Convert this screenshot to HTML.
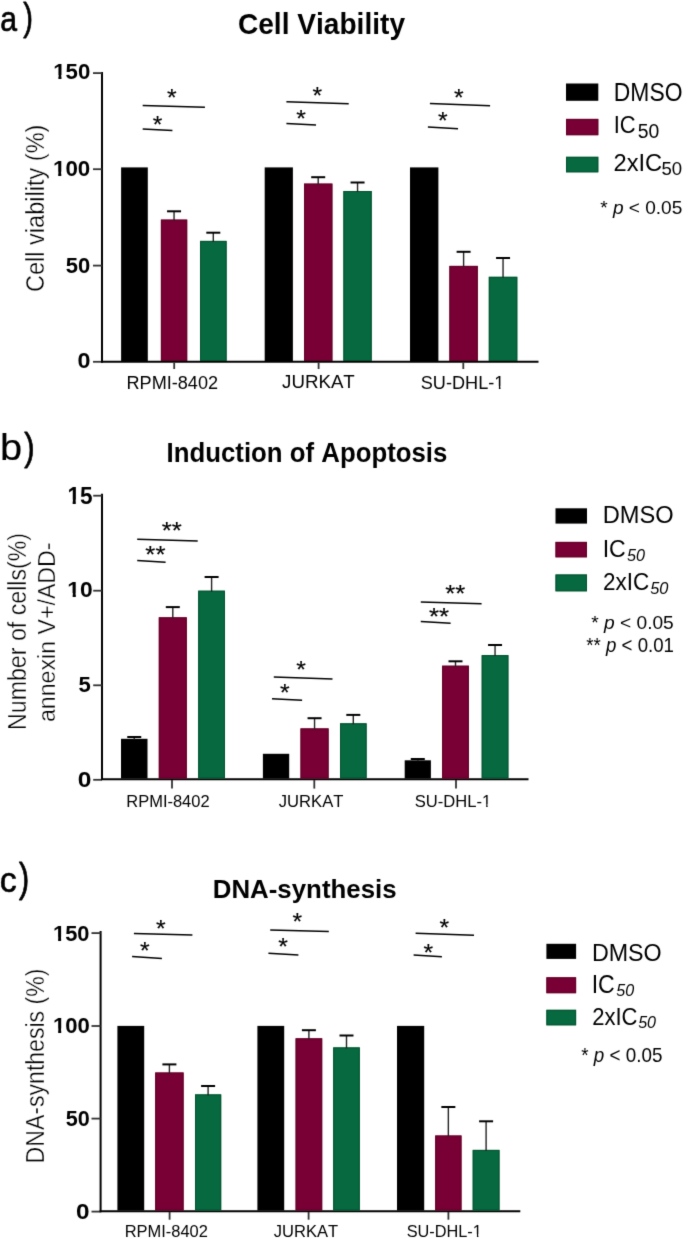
<!DOCTYPE html>
<html><head><meta charset="utf-8"><style>
html,body{margin:0;padding:0;background:#fff;}
svg{display:block;font-family:"Liberation Sans", sans-serif;}
text{font-kerning:none;}
svg{will-change:transform;}
</style></head><body>
<svg width="685" height="1238" viewBox="0 0 685 1238">
<defs><filter id="soft" filterUnits="userSpaceOnUse" x="-20" y="-20" width="725" height="1278" color-interpolation-filters="sRGB"><feConvolveMatrix order="5" kernelMatrix="0.00000 0.00003 0.00021 0.00003 0.00000 0.00003 0.01133 0.08373 0.01133 0.00003 0.00021 0.08373 0.61869 0.08373 0.00021 0.00003 0.01133 0.08373 0.01133 0.00003 0.00000 0.00003 0.00021 0.00003 0.00000" divisor="1" edgeMode="none" preserveAlpha="true"/></filter></defs>
<g filter="url(#soft)">
<rect x="-20" y="-20" width="725" height="1278" fill="#fff"/>
<text transform="translate(0.22,30.65) scale(0.8434,1)" font-size="35.78" font-weight="normal" font-style="normal" fill="#000" stroke="#000" stroke-width="0.71" stroke-linejoin="round">a</text>
<text transform="translate(23.13,30.02) scale(0.7352,1)" font-size="39.50" font-weight="normal" font-style="normal" fill="#000" stroke="#000" stroke-width="0.82" stroke-linejoin="round">)</text>
<text transform="translate(237.95,33.76) scale(0.9817,1)" font-size="28.64" font-weight="bold" font-style="normal" fill="#000">Cell Viability</text>
<line x1="102.00" y1="72.00" x2="102.00" y2="362.80" stroke="#000" stroke-width="2.00"/>
<line x1="93.00" y1="73.10" x2="102.00" y2="73.10" stroke="#333" stroke-width="1.80"/>
<line x1="93.00" y1="169.20" x2="102.00" y2="169.20" stroke="#333" stroke-width="1.80"/>
<line x1="93.00" y1="265.60" x2="102.00" y2="265.60" stroke="#333" stroke-width="1.80"/>
<line x1="93.00" y1="361.80" x2="102.00" y2="361.80" stroke="#333" stroke-width="1.80"/>
<g transform="translate(53.20,79.08) scale(1.0096,1)"><text font-size="22.03" font-weight="bold" font-style="normal" fill="#000">150</text><rect x="-0.23" y="-4.08" width="5.37" height="5.48" fill="#fff"/><rect x="8.17" y="-4.08" width="4.55" height="5.48" fill="#fff"/></g>
<g transform="translate(52.99,175.78) scale(1.0154,1)"><text font-size="22.03" font-weight="bold" font-style="normal" fill="#000">100</text><rect x="-0.23" y="-4.08" width="5.37" height="5.48" fill="#fff"/><rect x="8.17" y="-4.08" width="4.55" height="5.48" fill="#fff"/></g>
<text transform="translate(65.82,272.78)" font-size="22.03" font-weight="bold" font-style="normal" fill="#000">50</text>
<text transform="translate(77.58,367.78) scale(1.0593,1)" font-size="22.03" font-weight="bold" font-style="normal" fill="#000">0</text>
<text transform="translate(44.02,292.00) rotate(-90) scale(0.9260,1)" font-size="25.43" font-weight="normal" font-style="normal" fill="#000" stroke="#fff" stroke-width="0.35">Cell viability (%)</text>
<line x1="101.00" y1="361.80" x2="538.50" y2="361.80" stroke="#000" stroke-width="2.00"/>
<line x1="174.20" y1="362.50" x2="174.20" y2="369.00" stroke="#333" stroke-width="1.80"/>
<line x1="318.60" y1="362.50" x2="318.60" y2="369.00" stroke="#333" stroke-width="1.80"/>
<line x1="463.30" y1="362.50" x2="463.30" y2="369.00" stroke="#333" stroke-width="1.80"/>
<text transform="translate(126.51,388.92) scale(0.9940,1)" font-size="18.22" font-weight="normal" font-style="normal" fill="#000">RPMI-8402</text>
<text transform="translate(282.11,388.42) scale(0.9959,1)" font-size="18.77" font-weight="normal" font-style="normal" fill="#000">JURKAT</text>
<g transform="translate(420.78,389.21) scale(0.9508,1)"><text font-size="19.07" font-weight="normal" font-style="normal" fill="#000">SU-DHL-1</text><rect x="77.39" y="-3.01" width="4.74" height="4.22" fill="#fff"/><rect x="83.81" y="-3.01" width="4.12" height="4.22" fill="#fff"/></g>
<rect x="121.10" y="167.40" width="26.70" height="193.60" fill="#000"/>
<rect x="160.90" y="219.60" width="26.30" height="141.40" fill="#780034"/>
<rect x="161.40" y="220.10" width="25.30" height="140.40" fill="none" stroke="#620026" stroke-width="1.00"/>
<line x1="174.05" y1="220.60" x2="174.05" y2="211.30" stroke="#222" stroke-width="1.40"/>
<line x1="167.05" y1="211.30" x2="181.05" y2="211.30" stroke="#000" stroke-width="2.00"/>
<rect x="200.00" y="240.90" width="26.60" height="120.10" fill="#076940"/>
<rect x="200.50" y="241.40" width="25.60" height="119.10" fill="none" stroke="#00532e" stroke-width="1.00"/>
<line x1="213.30" y1="241.90" x2="213.30" y2="232.70" stroke="#222" stroke-width="1.40"/>
<line x1="206.30" y1="232.70" x2="220.30" y2="232.70" stroke="#000" stroke-width="2.00"/>
<rect x="264.70" y="167.40" width="28.20" height="193.60" fill="#000"/>
<rect x="304.00" y="183.60" width="28.40" height="177.40" fill="#780034"/>
<rect x="304.50" y="184.10" width="27.40" height="176.40" fill="none" stroke="#620026" stroke-width="1.00"/>
<line x1="318.20" y1="184.60" x2="318.20" y2="177.20" stroke="#222" stroke-width="1.40"/>
<line x1="311.20" y1="177.20" x2="325.20" y2="177.20" stroke="#000" stroke-width="2.00"/>
<rect x="343.40" y="191.00" width="28.30" height="170.00" fill="#076940"/>
<rect x="343.90" y="191.50" width="27.30" height="169.00" fill="none" stroke="#00532e" stroke-width="1.00"/>
<line x1="357.55" y1="192.00" x2="357.55" y2="182.50" stroke="#222" stroke-width="1.40"/>
<line x1="350.55" y1="182.50" x2="364.55" y2="182.50" stroke="#000" stroke-width="2.00"/>
<rect x="410.00" y="167.40" width="28.40" height="193.60" fill="#000"/>
<rect x="449.40" y="265.90" width="28.40" height="95.10" fill="#780034"/>
<rect x="449.90" y="266.40" width="27.40" height="94.10" fill="none" stroke="#620026" stroke-width="1.00"/>
<line x1="463.60" y1="266.90" x2="463.60" y2="251.80" stroke="#222" stroke-width="1.40"/>
<line x1="456.60" y1="251.80" x2="470.60" y2="251.80" stroke="#000" stroke-width="2.00"/>
<rect x="488.80" y="276.80" width="28.50" height="84.20" fill="#076940"/>
<rect x="489.30" y="277.30" width="27.50" height="83.20" fill="none" stroke="#00532e" stroke-width="1.00"/>
<line x1="503.05" y1="277.80" x2="503.05" y2="258.00" stroke="#222" stroke-width="1.40"/>
<line x1="496.05" y1="258.00" x2="510.05" y2="258.00" stroke="#000" stroke-width="2.00"/>
<line x1="142.70" y1="105.40" x2="204.90" y2="107.30" stroke="#000" stroke-width="1.50"/>
<text transform="translate(166.98,105.88) scale(1.0167,1)" font-size="24.35" font-weight="normal" font-style="normal" fill="#000" stroke="#000" stroke-width="0.15" stroke-linejoin="round">*</text>
<line x1="142.70" y1="128.90" x2="172.40" y2="130.60" stroke="#000" stroke-width="1.50"/>
<text transform="translate(152.68,132.68) scale(1.0167,1)" font-size="24.35" font-weight="normal" font-style="normal" fill="#000" stroke="#000" stroke-width="0.15" stroke-linejoin="round">*</text>
<line x1="286.40" y1="101.80" x2="348.70" y2="103.70" stroke="#000" stroke-width="1.50"/>
<text transform="translate(312.38,104.18) scale(1.0167,1)" font-size="24.35" font-weight="normal" font-style="normal" fill="#000" stroke="#000" stroke-width="0.15" stroke-linejoin="round">*</text>
<line x1="286.40" y1="123.40" x2="316.00" y2="125.10" stroke="#000" stroke-width="1.50"/>
<text transform="translate(296.18,127.38) scale(1.0167,1)" font-size="24.35" font-weight="normal" font-style="normal" fill="#000" stroke="#000" stroke-width="0.15" stroke-linejoin="round">*</text>
<line x1="429.90" y1="103.60" x2="490.10" y2="105.70" stroke="#000" stroke-width="1.50"/>
<text transform="translate(453.98,105.88) scale(1.0167,1)" font-size="24.35" font-weight="normal" font-style="normal" fill="#000" stroke="#000" stroke-width="0.15" stroke-linejoin="round">*</text>
<line x1="427.90" y1="127.00" x2="458.00" y2="128.70" stroke="#000" stroke-width="1.50"/>
<text transform="translate(437.98,129.18) scale(1.0167,1)" font-size="24.35" font-weight="normal" font-style="normal" fill="#000" stroke="#000" stroke-width="0.15" stroke-linejoin="round">*</text>
<rect x="566.00" y="83.50" width="32.30" height="17.30" fill="#000"/>
<rect x="566.00" y="118.90" width="32.30" height="16.30" fill="#780034"/>
<rect x="566.50" y="119.40" width="31.30" height="15.30" fill="none" stroke="#620026" stroke-width="1.00"/>
<rect x="566.00" y="156.80" width="32.30" height="15.50" fill="#076940"/>
<rect x="566.50" y="157.30" width="31.30" height="14.50" fill="none" stroke="#00532e" stroke-width="1.00"/>
<text transform="translate(613.82,100.65) scale(0.9105,1)" font-size="25.14" font-weight="normal" font-style="normal" fill="#000">DMSO</text>
<text transform="translate(613.67,132.96) scale(0.9041,1)" font-size="24.29" font-weight="normal" font-style="normal" fill="#000">IC</text>
<text transform="translate(637.72,138.31) scale(0.9860,1)" font-size="19.63" font-weight="normal" font-style="normal" fill="#000">50</text>
<text transform="translate(613.51,170.66) scale(0.9527,1)" font-size="24.86" font-weight="normal" font-style="normal" fill="#000">2xIC</text>
<text transform="translate(661.46,175.42) scale(0.9892,1)" font-size="18.79" font-weight="normal" font-style="normal" fill="#000">50</text>
<text transform="translate(600.19,213.72) scale(1.0311,1)" font-size="18.50" xml:space="preserve">* <tspan font-style="italic">p</tspan> &lt; 0.05</text>
<text transform="translate(0.03,460.23) scale(1.0553,1)" font-size="37.72" font-weight="normal" font-style="normal" fill="#000" stroke="#000" stroke-width="0.19" stroke-linejoin="round">b</text>
<text transform="translate(24.32,459.78) scale(0.7882,1)" font-size="39.71" font-weight="normal" font-style="normal" fill="#000" stroke="#000" stroke-width="0.76" stroke-linejoin="round">)</text>
<text transform="translate(166.57,461.66) scale(0.9318,1)" font-size="27.68" font-weight="bold" font-style="normal" fill="#000">Induction of Apoptosis</text>
<line x1="102.00" y1="493.70" x2="102.00" y2="780.00" stroke="#000" stroke-width="2.00"/>
<line x1="93.20" y1="495.70" x2="102.00" y2="495.70" stroke="#333" stroke-width="1.80"/>
<line x1="93.20" y1="590.70" x2="102.00" y2="590.70" stroke="#333" stroke-width="1.80"/>
<line x1="93.20" y1="685.30" x2="102.00" y2="685.30" stroke="#333" stroke-width="1.80"/>
<line x1="93.20" y1="779.80" x2="102.00" y2="779.80" stroke="#333" stroke-width="1.80"/>
<g transform="translate(67.38,503.87) scale(0.9801,1)"><text font-size="23.07" font-weight="bold" font-style="normal" fill="#000">15</text><rect x="-0.24" y="-4.27" width="5.62" height="5.73" fill="#fff"/><rect x="8.55" y="-4.27" width="4.77" height="5.73" fill="#fff"/></g>
<g transform="translate(67.36,597.18) scale(1.0157,1)"><text font-size="22.46" font-weight="bold" font-style="normal" fill="#000">10</text><rect x="-0.23" y="-4.16" width="5.47" height="5.58" fill="#fff"/><rect x="8.32" y="-4.16" width="4.64" height="5.58" fill="#fff"/></g>
<text transform="translate(78.42,692.18) scale(0.9641,1)" font-size="22.93" font-weight="bold" font-style="normal" fill="#000">5</text>
<text transform="translate(77.63,787.08) scale(1.0886,1)" font-size="22.60" font-weight="bold" font-style="normal" fill="#000">0</text>
<text transform="translate(26.14,730.00) rotate(-90) scale(0.9316,1)" font-size="24.90" font-weight="normal" font-style="normal" fill="#000" stroke="#fff" stroke-width="0.35">Number of cells(%)</text>
<text transform="translate(54.66,722.08) rotate(-90) scale(0.9509,1)" font-size="24.37" font-weight="normal" font-style="normal" fill="#000" stroke="#fff" stroke-width="0.35">annexin V+/ADD-</text>
<line x1="101.00" y1="779.20" x2="528.50" y2="779.20" stroke="#000" stroke-width="2.00"/>
<line x1="172.00" y1="779.90" x2="172.00" y2="788.60" stroke="#333" stroke-width="1.80"/>
<line x1="314.30" y1="779.90" x2="314.30" y2="788.60" stroke="#333" stroke-width="1.80"/>
<line x1="456.00" y1="779.90" x2="456.00" y2="788.60" stroke="#333" stroke-width="1.80"/>
<text transform="translate(126.25,807.03) scale(0.9727,1)" font-size="16.95" font-weight="normal" font-style="normal" fill="#000">RPMI-8402</text>
<text transform="translate(278.74,806.73) scale(0.9664,1)" font-size="17.20" font-weight="normal" font-style="normal" fill="#000">JURKAT</text>
<g transform="translate(414.75,806.73) scale(0.9782,1)"><text font-size="16.95" font-weight="normal" font-style="normal" fill="#000">SU-DHL-1</text><rect x="68.79" y="-2.67" width="4.21" height="3.75" fill="#fff"/><rect x="74.50" y="-2.67" width="3.67" height="3.75" fill="#fff"/></g>
<rect x="121.00" y="738.80" width="26.50" height="39.70" fill="#000"/>
<line x1="134.25" y1="739.80" x2="134.25" y2="737.00" stroke="#222" stroke-width="1.40"/>
<line x1="127.25" y1="737.00" x2="141.25" y2="737.00" stroke="#000" stroke-width="2.00"/>
<rect x="158.80" y="617.30" width="28.00" height="161.20" fill="#780034"/>
<rect x="159.30" y="617.80" width="27.00" height="160.20" fill="none" stroke="#620026" stroke-width="1.00"/>
<line x1="172.80" y1="618.30" x2="172.80" y2="607.10" stroke="#222" stroke-width="1.40"/>
<line x1="165.80" y1="607.10" x2="179.80" y2="607.10" stroke="#000" stroke-width="2.00"/>
<rect x="198.20" y="590.70" width="26.80" height="187.80" fill="#076940"/>
<rect x="198.70" y="591.20" width="25.80" height="186.80" fill="none" stroke="#00532e" stroke-width="1.00"/>
<line x1="211.60" y1="591.70" x2="211.60" y2="577.00" stroke="#222" stroke-width="1.40"/>
<line x1="204.60" y1="577.00" x2="218.60" y2="577.00" stroke="#000" stroke-width="2.00"/>
<rect x="262.90" y="753.80" width="26.30" height="24.70" fill="#000"/>
<rect x="300.50" y="728.40" width="28.10" height="50.10" fill="#780034"/>
<rect x="301.00" y="728.90" width="27.10" height="49.10" fill="none" stroke="#620026" stroke-width="1.00"/>
<line x1="314.55" y1="729.40" x2="314.55" y2="718.20" stroke="#222" stroke-width="1.40"/>
<line x1="307.55" y1="718.20" x2="321.55" y2="718.20" stroke="#000" stroke-width="2.00"/>
<rect x="340.00" y="723.30" width="26.60" height="55.20" fill="#076940"/>
<rect x="340.50" y="723.80" width="25.60" height="54.20" fill="none" stroke="#00532e" stroke-width="1.00"/>
<line x1="353.30" y1="724.30" x2="353.30" y2="714.90" stroke="#222" stroke-width="1.40"/>
<line x1="346.30" y1="714.90" x2="360.30" y2="714.90" stroke="#000" stroke-width="2.00"/>
<rect x="404.70" y="760.30" width="26.20" height="18.20" fill="#000"/>
<line x1="417.80" y1="761.30" x2="417.80" y2="759.00" stroke="#222" stroke-width="1.40"/>
<line x1="410.80" y1="759.00" x2="424.80" y2="759.00" stroke="#000" stroke-width="2.00"/>
<rect x="442.10" y="665.70" width="26.80" height="112.80" fill="#780034"/>
<rect x="442.60" y="666.20" width="25.80" height="111.80" fill="none" stroke="#620026" stroke-width="1.00"/>
<line x1="455.50" y1="666.70" x2="455.50" y2="661.30" stroke="#222" stroke-width="1.40"/>
<line x1="448.50" y1="661.30" x2="462.50" y2="661.30" stroke="#000" stroke-width="2.00"/>
<rect x="481.70" y="655.10" width="26.70" height="123.40" fill="#076940"/>
<rect x="482.20" y="655.60" width="25.70" height="122.40" fill="none" stroke="#00532e" stroke-width="1.00"/>
<line x1="495.05" y1="656.10" x2="495.05" y2="645.00" stroke="#222" stroke-width="1.40"/>
<line x1="488.05" y1="645.00" x2="502.05" y2="645.00" stroke="#000" stroke-width="2.00"/>
<line x1="137.20" y1="539.30" x2="197.70" y2="540.90" stroke="#000" stroke-width="1.50"/>
<text transform="translate(161.76,539.38) scale(1.0587,1)" font-size="24.35" font-weight="normal" font-style="normal" fill="#000" stroke="#000" stroke-width="0.14" stroke-linejoin="round">**</text>
<line x1="137.20" y1="560.60" x2="165.60" y2="562.30" stroke="#000" stroke-width="1.50"/>
<text transform="translate(145.36,562.78) scale(1.0587,1)" font-size="24.35" font-weight="normal" font-style="normal" fill="#000" stroke="#000" stroke-width="0.14" stroke-linejoin="round">**</text>
<line x1="273.80" y1="677.00" x2="332.50" y2="679.00" stroke="#000" stroke-width="1.50"/>
<text transform="translate(296.18,677.68) scale(1.0167,1)" font-size="24.35" font-weight="normal" font-style="normal" fill="#000" stroke="#000" stroke-width="0.15" stroke-linejoin="round">*</text>
<line x1="272.00" y1="698.80" x2="302.10" y2="700.30" stroke="#000" stroke-width="1.50"/>
<text transform="translate(280.08,700.88) scale(1.0167,1)" font-size="24.35" font-weight="normal" font-style="normal" fill="#000" stroke="#000" stroke-width="0.15" stroke-linejoin="round">*</text>
<line x1="420.80" y1="601.90" x2="481.60" y2="603.70" stroke="#000" stroke-width="1.50"/>
<text transform="translate(445.16,602.28) scale(1.0587,1)" font-size="24.35" font-weight="normal" font-style="normal" fill="#000" stroke="#000" stroke-width="0.14" stroke-linejoin="round">**</text>
<line x1="420.80" y1="621.60" x2="450.60" y2="623.30" stroke="#000" stroke-width="1.50"/>
<text transform="translate(429.06,625.48) scale(1.0587,1)" font-size="24.35" font-weight="normal" font-style="normal" fill="#000" stroke="#000" stroke-width="0.14" stroke-linejoin="round">**</text>
<rect x="555.50" y="508.30" width="31.50" height="15.30" fill="#000"/>
<rect x="555.50" y="541.90" width="31.50" height="15.40" fill="#780034"/>
<rect x="556.00" y="542.40" width="30.50" height="14.40" fill="none" stroke="#620026" stroke-width="1.00"/>
<rect x="555.50" y="574.50" width="31.50" height="16.80" fill="#076940"/>
<rect x="556.00" y="575.00" width="30.50" height="15.80" fill="none" stroke="#00532e" stroke-width="1.00"/>
<text transform="translate(602.66,523.46) scale(0.9571,1)" font-size="24.72" font-weight="normal" font-style="normal" fill="#000">DMSO</text>
<text transform="translate(602.67,557.07) scale(0.9799,1)" font-size="23.59" font-weight="normal" font-style="normal" fill="#000">IC</text>
<text transform="translate(626.94,561.14) scale(0.9791,1)" font-size="16.53" font-weight="normal" font-style="italic" fill="#000">50</text>
<text transform="translate(603.07,589.66) scale(0.9321,1)" font-size="24.15" font-weight="normal" font-style="normal" fill="#000">2xIC</text>
<text transform="translate(650.13,593.64)" font-size="16.38" font-weight="normal" font-style="italic" fill="#000">50</text>
<text transform="translate(591.19,629.11) scale(1.0055,1)" font-size="19.07" xml:space="preserve">* <tspan font-style="italic">p</tspan> &lt; 0.05</text>
<text transform="translate(586.30,652.11) scale(0.9637,1)" font-size="19.35" xml:space="preserve">** <tspan font-style="italic">p</tspan> &lt; 0.01</text>
<text transform="translate(-0.24,892.36) scale(0.9612,1)" font-size="35.23" font-weight="normal" font-style="normal" fill="#000" stroke="#000" stroke-width="0.62" stroke-linejoin="round">c</text>
<text transform="translate(19.12,891.77) scale(0.7590,1)" font-size="40.25" font-weight="normal" font-style="normal" fill="#000" stroke="#000" stroke-width="0.79" stroke-linejoin="round">)</text>
<text transform="translate(212.77,897.61) scale(1.0343,1)" font-size="25.00" font-weight="bold" font-style="normal" fill="#000">DNA-synthesis</text>
<line x1="100.60" y1="931.10" x2="100.60" y2="1212.20" stroke="#000" stroke-width="2.00"/>
<line x1="91.50" y1="933.10" x2="100.60" y2="933.10" stroke="#333" stroke-width="1.80"/>
<line x1="91.50" y1="1026.00" x2="100.60" y2="1026.00" stroke="#333" stroke-width="1.80"/>
<line x1="91.50" y1="1118.60" x2="100.60" y2="1118.60" stroke="#333" stroke-width="1.80"/>
<line x1="91.50" y1="1211.60" x2="100.60" y2="1211.60" stroke="#333" stroke-width="1.80"/>
<g transform="translate(53.02,940.98) scale(0.9796,1)"><text font-size="22.32" font-weight="bold" font-style="normal" fill="#000">150</text><rect x="-0.23" y="-4.13" width="5.44" height="5.55" fill="#fff"/><rect x="8.27" y="-4.13" width="4.61" height="5.55" fill="#fff"/></g>
<g transform="translate(53.01,1032.58) scale(0.9787,1)"><text font-size="22.60" font-weight="bold" font-style="normal" fill="#000">100</text><rect x="-0.23" y="-4.18" width="5.51" height="5.62" fill="#fff"/><rect x="8.38" y="-4.18" width="4.67" height="5.62" fill="#fff"/></g>
<text transform="translate(65.83,1125.78) scale(0.9450,1)" font-size="22.88" font-weight="bold" font-style="normal" fill="#000">50</text>
<text transform="translate(75.94,1218.78) scale(1.0793,1)" font-size="22.60" font-weight="bold" font-style="normal" fill="#000">0</text>
<text transform="translate(44.02,1163.39) rotate(-90) scale(0.9077,1)" font-size="25.43" font-weight="normal" font-style="normal" fill="#000" stroke="#fff" stroke-width="0.35">DNA-synthesis (%)</text>
<line x1="99.60" y1="1211.20" x2="520.30" y2="1211.20" stroke="#000" stroke-width="2.00"/>
<line x1="169.60" y1="1211.90" x2="169.60" y2="1219.70" stroke="#333" stroke-width="1.80"/>
<line x1="308.60" y1="1211.90" x2="308.60" y2="1219.70" stroke="#333" stroke-width="1.80"/>
<line x1="448.40" y1="1211.90" x2="448.40" y2="1219.70" stroke="#333" stroke-width="1.80"/>
<text transform="translate(124.65,1236.74) scale(0.9952,1)" font-size="16.53" font-weight="normal" font-style="normal" fill="#000">RPMI-8402</text>
<text transform="translate(273.74,1236.74) scale(0.9866,1)" font-size="16.77" font-weight="normal" font-style="normal" fill="#000">JURKAT</text>
<g transform="translate(406.66,1236.74) scale(0.9872,1)"><text font-size="16.53" font-weight="normal" font-style="normal" fill="#000">SU-DHL-1</text><rect x="67.07" y="-2.61" width="4.11" height="3.66" fill="#fff"/><rect x="72.64" y="-2.61" width="3.57" height="3.66" fill="#fff"/></g>
<rect x="117.40" y="1025.90" width="26.80" height="184.60" fill="#000"/>
<rect x="155.20" y="1072.50" width="28.40" height="138.00" fill="#780034"/>
<rect x="155.70" y="1073.00" width="27.40" height="137.00" fill="none" stroke="#620026" stroke-width="1.00"/>
<line x1="169.40" y1="1073.50" x2="169.40" y2="1064.40" stroke="#222" stroke-width="1.40"/>
<line x1="162.40" y1="1064.40" x2="176.40" y2="1064.40" stroke="#000" stroke-width="2.00"/>
<rect x="195.00" y="1094.40" width="26.20" height="116.10" fill="#076940"/>
<rect x="195.50" y="1094.90" width="25.20" height="115.10" fill="none" stroke="#00532e" stroke-width="1.00"/>
<line x1="208.10" y1="1095.40" x2="208.10" y2="1086.00" stroke="#222" stroke-width="1.40"/>
<line x1="201.10" y1="1086.00" x2="215.10" y2="1086.00" stroke="#000" stroke-width="2.00"/>
<rect x="257.40" y="1025.90" width="26.80" height="184.60" fill="#000"/>
<rect x="295.60" y="1038.30" width="26.60" height="172.20" fill="#780034"/>
<rect x="296.10" y="1038.80" width="25.60" height="171.20" fill="none" stroke="#620026" stroke-width="1.00"/>
<line x1="308.90" y1="1039.30" x2="308.90" y2="1030.20" stroke="#222" stroke-width="1.40"/>
<line x1="301.90" y1="1030.20" x2="315.90" y2="1030.20" stroke="#000" stroke-width="2.00"/>
<rect x="333.20" y="1047.40" width="26.60" height="163.10" fill="#076940"/>
<rect x="333.70" y="1047.90" width="25.60" height="162.10" fill="none" stroke="#00532e" stroke-width="1.00"/>
<line x1="346.50" y1="1048.40" x2="346.50" y2="1035.50" stroke="#222" stroke-width="1.40"/>
<line x1="339.50" y1="1035.50" x2="353.50" y2="1035.50" stroke="#000" stroke-width="2.00"/>
<rect x="397.00" y="1025.90" width="27.20" height="184.60" fill="#000"/>
<rect x="435.20" y="1135.50" width="26.30" height="75.00" fill="#780034"/>
<rect x="435.70" y="1136.00" width="25.30" height="74.00" fill="none" stroke="#620026" stroke-width="1.00"/>
<line x1="448.35" y1="1136.50" x2="448.35" y2="1107.00" stroke="#222" stroke-width="1.40"/>
<line x1="441.35" y1="1107.00" x2="455.35" y2="1107.00" stroke="#000" stroke-width="2.00"/>
<rect x="472.70" y="1149.90" width="26.80" height="60.60" fill="#076940"/>
<rect x="473.20" y="1150.40" width="25.80" height="59.60" fill="none" stroke="#00532e" stroke-width="1.00"/>
<line x1="486.10" y1="1150.90" x2="486.10" y2="1121.30" stroke="#222" stroke-width="1.40"/>
<line x1="479.10" y1="1121.30" x2="493.10" y2="1121.30" stroke="#000" stroke-width="2.00"/>
<line x1="133.90" y1="933.40" x2="192.40" y2="935.10" stroke="#000" stroke-width="1.50"/>
<text transform="translate(155.98,937.38) scale(1.0167,1)" font-size="24.35" font-weight="normal" font-style="normal" fill="#000" stroke="#000" stroke-width="0.15" stroke-linejoin="round">*</text>
<line x1="132.10" y1="956.40" x2="161.90" y2="958.40" stroke="#000" stroke-width="1.50"/>
<text transform="translate(139.98,958.88) scale(1.0167,1)" font-size="24.35" font-weight="normal" font-style="normal" fill="#000" stroke="#000" stroke-width="0.15" stroke-linejoin="round">*</text>
<line x1="270.20" y1="929.90" x2="328.80" y2="931.60" stroke="#000" stroke-width="1.50"/>
<text transform="translate(292.38,930.28) scale(1.0167,1)" font-size="24.35" font-weight="normal" font-style="normal" fill="#000" stroke="#000" stroke-width="0.15" stroke-linejoin="round">*</text>
<line x1="268.40" y1="953.20" x2="298.40" y2="955.00" stroke="#000" stroke-width="1.50"/>
<text transform="translate(278.18,955.28) scale(1.0167,1)" font-size="24.35" font-weight="normal" font-style="normal" fill="#000" stroke="#000" stroke-width="0.15" stroke-linejoin="round">*</text>
<line x1="415.60" y1="933.30" x2="474.00" y2="935.20" stroke="#000" stroke-width="1.50"/>
<text transform="translate(439.58,935.78) scale(1.0167,1)" font-size="24.35" font-weight="normal" font-style="normal" fill="#000" stroke="#000" stroke-width="0.15" stroke-linejoin="round">*</text>
<line x1="413.60" y1="955.10" x2="441.90" y2="956.70" stroke="#000" stroke-width="1.50"/>
<text transform="translate(423.48,960.78) scale(1.0167,1)" font-size="24.35" font-weight="normal" font-style="normal" fill="#000" stroke="#000" stroke-width="0.15" stroke-linejoin="round">*</text>
<rect x="546.40" y="943.80" width="29.70" height="15.10" fill="#000"/>
<rect x="546.40" y="977.30" width="29.70" height="15.90" fill="#780034"/>
<rect x="546.90" y="977.80" width="28.70" height="14.90" fill="none" stroke="#620026" stroke-width="1.00"/>
<rect x="546.40" y="1009.80" width="29.70" height="15.50" fill="#076940"/>
<rect x="546.90" y="1010.30" width="28.70" height="14.50" fill="none" stroke="#00532e" stroke-width="1.00"/>
<text transform="translate(591.89,960.56) scale(0.9416,1)" font-size="24.72" font-weight="normal" font-style="normal" fill="#000">DMSO</text>
<text transform="translate(591.67,993.25) scale(0.9193,1)" font-size="25.14" font-weight="normal" font-style="normal" fill="#000">IC</text>
<text transform="translate(616.24,996.34) scale(0.9735,1)" font-size="16.53" font-weight="normal" font-style="italic" fill="#000">50</text>
<text transform="translate(592.19,1025.46) scale(0.8923,1)" font-size="24.72" font-weight="normal" font-style="normal" fill="#000">2xIC</text>
<text transform="translate(638.14,1028.34) scale(0.9735,1)" font-size="16.53" font-weight="normal" font-style="italic" fill="#000">50</text>
<text transform="translate(581.30,1061.51) scale(0.9529,1)" font-size="19.77" xml:space="preserve">* <tspan font-style="italic">p</tspan> &lt; 0.05</text>
</g>
</svg>
</body></html>
